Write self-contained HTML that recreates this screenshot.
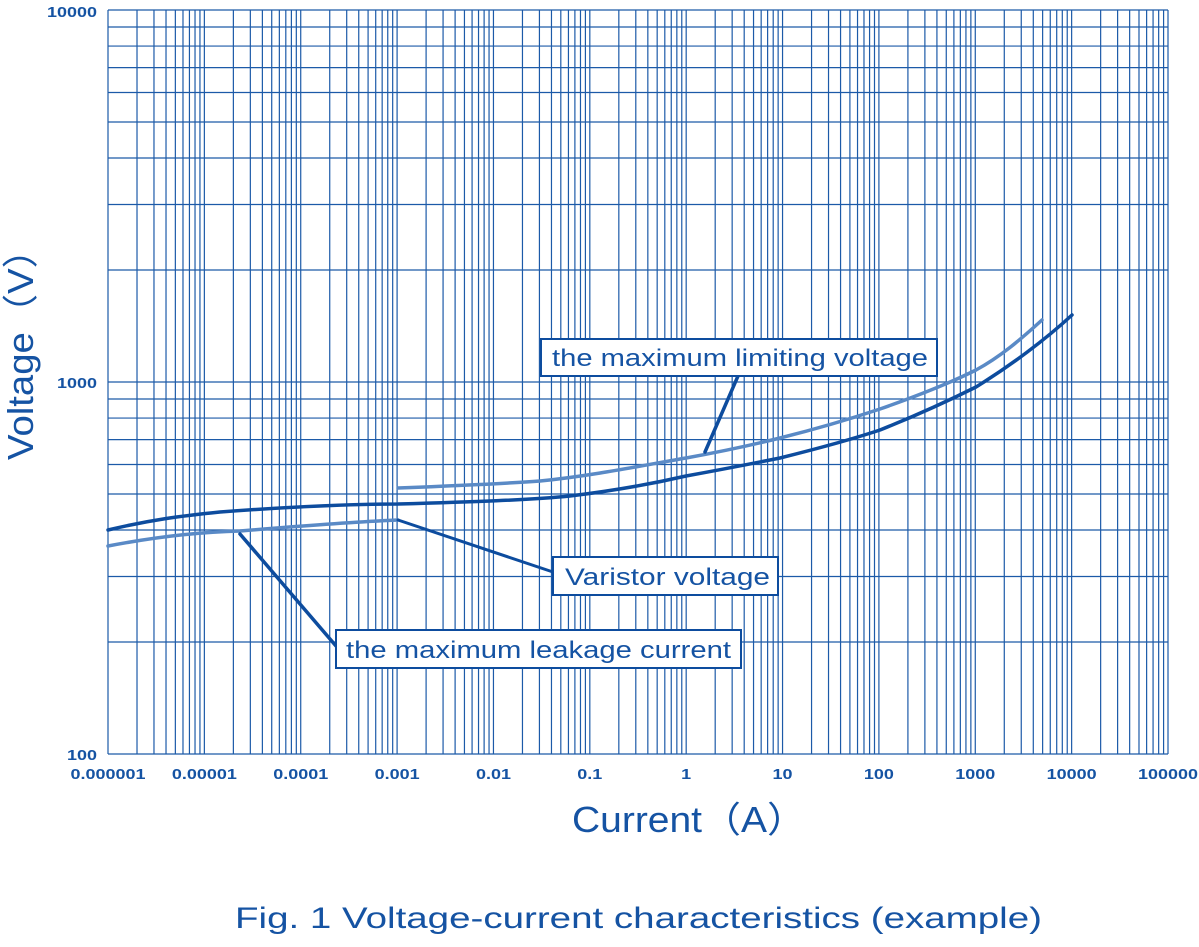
<!DOCTYPE html>
<html><head><meta charset="utf-8"><style>
html,body{margin:0;padding:0;background:#fff;}
svg{display:block;}
text{font-family:"Liberation Sans",sans-serif;fill:#1553a3;}
</style></head><body>
<svg id="s" width="1199" height="947" xmlns="http://www.w3.org/2000/svg">
<g id="grid" stroke="#1c5aa8" stroke-width="1.2" fill="none"></g>
<g id="lbl" font-size="15" font-weight="bold"></g>
<g fill="none" stroke-linecap="round" stroke-linejoin="round">
<path d="M108,546 C160,536 200,532 240,531 C300,526 350,522 398,520" stroke="#5a8ac6" stroke-width="3.5"/>
<path d="M398,488 C450,486 500,484 540,481 C590,476 640,466 686,458 C730,450 760,443 780,438 C820,428 850,419 880,409 C920,395 950,383 976,370 C1000,357 1020,340 1042,320" stroke="#5a8ac6" stroke-width="3.5"/>
<path d="M108,530 C150,520 180,516 220,512 C300,506 350,504 398,504 C470,502 530,500 570,496 C620,490 660,482 686,476 C730,468 760,462 780,458 C820,448 850,440 880,430 C920,414 950,400 976,387 C1010,366 1045,340 1072,315" stroke="#0d4c9e" stroke-width="3.5"/>
<path d="M240,534 L336,646" stroke="#0d4c9e" stroke-width="3.5"/>
<path d="M398,520 L553,572" stroke="#0d4c9e" stroke-width="3"/>
<path d="M705,452 L738,376" stroke="#0d4c9e" stroke-width="3.5"/>
</g>
<g stroke="#0d4c9e" stroke-width="2" fill="#fff">
<rect x="541" y="339" width="396" height="37"/>
<rect x="553" y="557" width="225" height="38"/>
<rect x="336" y="630" width="405" height="38"/>
</g>
<g font-size="24">
<text x="552" y="366" textLength="376" lengthAdjust="spacingAndGlyphs">the maximum limiting voltage</text>
<text x="565" y="585" textLength="205" lengthAdjust="spacingAndGlyphs">Varistor voltage</text>
<text x="346" y="658" textLength="385" lengthAdjust="spacingAndGlyphs">the maximum leakage current</text>
</g>
<text x="572" y="832" font-size="36" textLength="234" lengthAdjust="spacingAndGlyphs">Current（A）</text>
<text transform="translate(33,460) rotate(-90)" font-size="36" textLength="230" lengthAdjust="spacingAndGlyphs">Voltage（V）</text>
<text x="235" y="928" font-size="30" textLength="807" lengthAdjust="spacingAndGlyphs">Fig. 1 Voltage-current characteristics (example)</text>
</svg>
<script>
var g=document.getElementById('grid'),L=document.getElementById('lbl'),ns='http://www.w3.org/2000/svg';
var x0=108,x1=1168,y0=754,y1=10,dx=(x1-x0)/11,dy=(y0-y1)/2;
function ln(a,b,c,d){var e=document.createElementNS(ns,'line');e.setAttribute('x1',a);e.setAttribute('y1',b);e.setAttribute('x2',c);e.setAttribute('y2',d);g.appendChild(e);}
function tx(x,y,s,a){var e=document.createElementNS(ns,'text');e.setAttribute('x',x);e.setAttribute('y',y);e.setAttribute('text-anchor',a);
var w=0;for(var i=0;i<s.length;i++)w+=(s[i]=='.'?5:10);e.setAttribute('textLength',w);e.setAttribute('lengthAdjust','spacingAndGlyphs');
e.textContent=s;L.appendChild(e);}
for(var d=0;d<11;d++)for(var k=1;k<10;k++){var x=x0+dx*(d+Math.log10(k));ln(x,y1,x,y0);}
ln(x1,y1,x1,y0);
for(var d=0;d<2;d++)for(var k=1;k<10;k++){var y=y0-dy*(d+Math.log10(k));ln(x0,y,x1,y);}
ln(x0,y1,x1,y1);
var xl=['0.000001','0.00001','0.0001','0.001','0.01','0.1','1','10','100','1000','10000','100000'];
for(var i=0;i<12;i++)tx(x0+dx*i,779,xl[i],'middle');
tx(97,760,'100','end');tx(97,388,'1000','end');tx(97,17,'10000','end');
</script>
</body></html>
